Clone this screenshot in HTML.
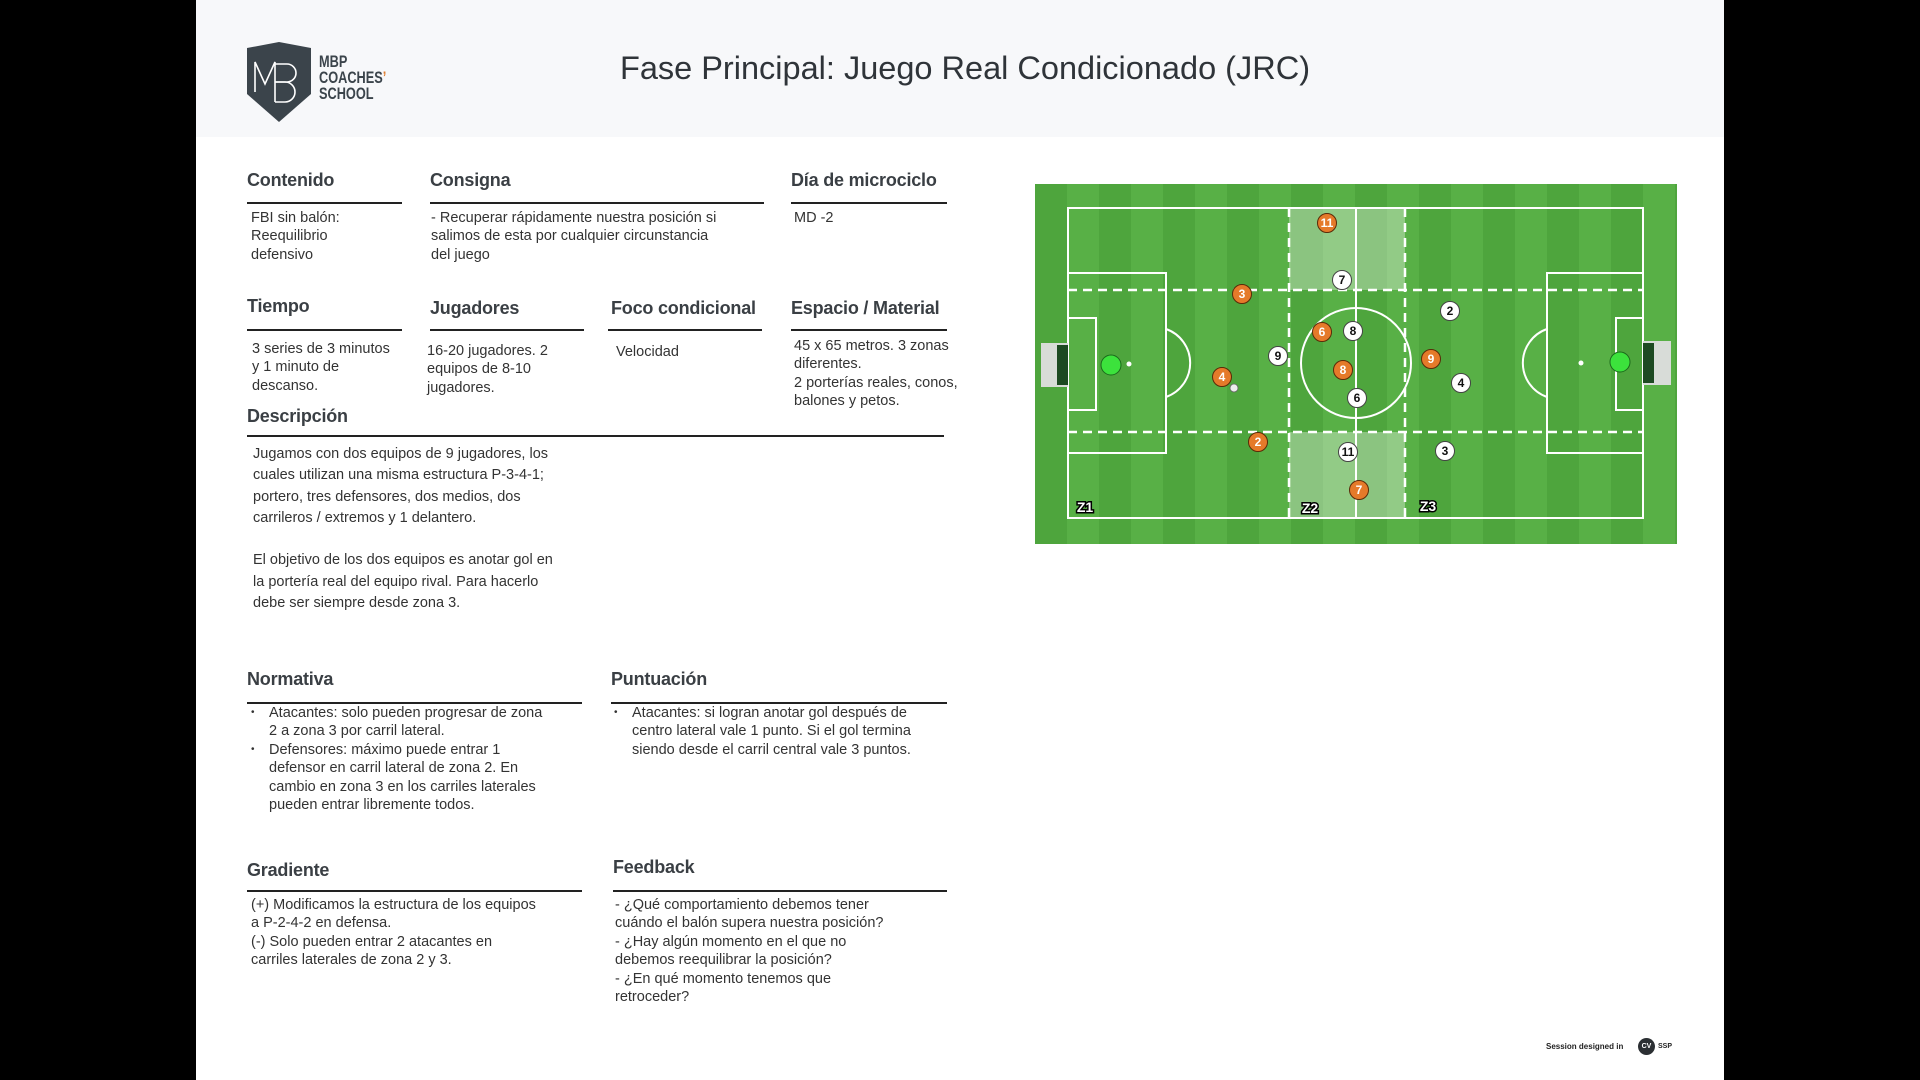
<!DOCTYPE html>
<html><head><meta charset="utf-8"><style>
*{margin:0;padding:0;box-sizing:border-box}
body{width:1920px;height:1080px;background:#000;position:relative;overflow:hidden;font-family:"Liberation Sans",sans-serif;color:#333}
#page{position:absolute;left:196px;top:0;width:1528px;height:1080px;background:#fff}
#hdr{position:absolute;left:196px;top:0;width:1528px;height:137px;background:#f7f8fa}
.a{position:absolute}
h2{position:absolute;font-size:18px;font-weight:bold;color:#3a3f44;letter-spacing:-0.2px}
.ln{position:absolute;height:2px;background:#222}
.t{position:absolute;font-size:14.5px;line-height:18.4px;color:#333}
ul{list-style:none}
ul li{position:relative;padding-left:20px}
ul li:before{content:"•";position:absolute;left:2px;font-size:10px}
</style></head><body>
<div id="page"></div><div id="hdr"></div>

<svg class="a" style="left:245px;top:42px" width="70" height="82" viewBox="0 0 70 82">
<path d="M2 6 L34 0 L66 6 L66 52 L34 80 L2 52 Z" fill="#3b444b"/>
<g fill="none" stroke="#fff" stroke-width="1.6">
<path d="M10 50 V20 L20 42 L30 20 V60"/><path d="M30 22 H42 a9 9 0 0 1 0 18 H30"/><path d="M30 40 H40 a10 10 0 0 1 0 20 H30"/>
</g></svg>
<div class="a" style="left:319px;top:54px;font-weight:bold;font-size:17px;line-height:16px;color:#3b444b;transform:scaleX(0.75);transform-origin:left top">MBP<br>COACHES<span style="color:#e07b2a">’</span><br>SCHOOL</div>

<div class="a" style="left:196px;width:1528px;top:50px;text-align:center;font-size:32.5px;color:#2f3439;padding-left:10px">Fase Principal: Juego Real Condicionado (JRC)</div>

<h2 style="left:247px;top:170px">Contenido</h2><div class="ln" style="left:247px;top:202px;width:155px"></div>
<div class="t" style="left:251px;top:209px">FBI sin balón:<br>Reequilibrio<br>defensivo</div>
<h2 style="left:430px;top:170px">Consigna</h2><div class="ln" style="left:430px;top:202px;width:334px"></div>
<div class="t" style="left:431px;top:209px">- Recuperar rápidamente nuestra posición si<br>salimos de esta por cualquier circunstancia<br>del juego</div>
<h2 style="left:791px;top:170px">Día de microciclo</h2><div class="ln" style="left:791px;top:202px;width:156px"></div>
<div class="t" style="left:794px;top:209px">MD -2</div>

<h2 style="left:247px;top:296px">Tiempo</h2><div class="ln" style="left:247px;top:329px;width:155px"></div>
<div class="t" style="left:252px;top:340px">3 series de 3 minutos<br>y 1 minuto de<br>descanso.</div>
<h2 style="left:430px;top:298px">Jugadores</h2><div class="ln" style="left:430px;top:329px;width:154px"></div>
<div class="t" style="left:427px;top:342px">16-20 jugadores. 2<br>equipos de 8-10<br>jugadores.</div>
<h2 style="left:611px;top:298px">Foco condicional</h2><div class="ln" style="left:608px;top:329px;width:154px"></div>
<div class="t" style="left:616px;top:343px">Velocidad</div>
<h2 style="left:791px;top:298px">Espacio / Material</h2><div class="ln" style="left:791px;top:329px;width:156px"></div>
<div class="t" style="left:794px;top:337px">45 x 65 metros. 3 zonas<br>diferentes.<br>2 porterías reales, conos,<br>balones y petos.</div>

<h2 style="left:247px;top:406px">Descripción</h2><div class="ln" style="left:247px;top:435px;width:697px"></div>
<div class="t" style="left:253px;top:444px;line-height:21.3px">Jugamos con dos equipos de 9 jugadores, los<br>cuales utilizan una misma estructura P-3-4-1;<br>portero, tres defensores, dos medios, dos<br>carrileros / extremos y 1 delantero.<br><br>El objetivo de los dos equipos es anotar gol en<br>la portería real del equipo rival. Para hacerlo<br>debe ser siempre desde zona 3.</div>

<h2 style="left:247px;top:669px">Normativa</h2><div class="ln" style="left:247px;top:702px;width:335px"></div>
<ul class="t" style="left:249px;top:704px;width:340px"><li>Atacantes: solo pueden progresar de zona<br>2 a zona 3 por carril lateral.</li><li>Defensores: máximo puede entrar 1<br>defensor en carril lateral de zona 2. En<br>cambio en zona 3 en los carriles laterales<br>pueden entrar libremente todos.</li></ul>
<h2 style="left:611px;top:669px">Puntuación</h2><div class="ln" style="left:611px;top:702px;width:336px"></div>
<ul class="t" style="left:612px;top:704px;width:345px"><li>Atacantes: si logran anotar gol después de<br>centro lateral vale 1 punto. Si el gol termina<br>siendo desde el carril central vale 3 puntos.</li></ul>

<h2 style="left:247px;top:860px">Gradiente</h2><div class="ln" style="left:247px;top:890px;width:335px"></div>
<div class="t" style="left:251px;top:896px">(+) Modificamos la estructura de los equipos<br>a P-2-4-2 en defensa.<br>(-) Solo pueden entrar 2 atacantes en<br>carriles laterales de zona 2 y 3.</div>
<h2 style="left:613px;top:857px">Feedback</h2><div class="ln" style="left:613px;top:890px;width:334px"></div>
<div class="t" style="left:615px;top:896px">- ¿Qué comportamiento debemos tener<br>cuándo el balón supera nuestra posición?<br>- ¿Hay algún momento en el que no<br>debemos reequilibrar la posición?<br>- ¿En qué momento tenemos que<br>retroceder?</div>

<div class="a" style="left:1546px;top:1042px;font-size:8px;color:#222;font-weight:bold">Session designed in</div>
<div class="a" style="left:1638px;top:1038px;width:17px;height:17px;border-radius:50%;background:#2b2f33;color:#fff;font-size:7px;line-height:17px;text-align:center;font-weight:bold">CV</div>
<div class="a" style="left:1658px;top:1043px;font-size:7px;font-weight:bold;color:#222">SSP</div>

<svg class="a" style="left:1035px;top:184px" width="642" height="360" viewBox="0 0 642 360" font-family="Liberation Sans, sans-serif">
<defs><pattern id="st" width="64" height="360" patternUnits="userSpaceOnUse"><rect width="32" height="360" fill="#4ea53d"/><rect x="32" width="32" height="360" fill="#58b046"/></pattern></defs>
<rect width="642" height="360" fill="url(#st)"/>
<rect x="254" y="24" width="116" height="82" fill="#fff" opacity="0.35"/>
<rect x="254" y="248" width="116" height="86" fill="#fff" opacity="0.35"/>
<g fill="none" stroke="#fff" stroke-width="2">
<rect x="33" y="24" width="575" height="310"/>
<line x1="321" y1="24" x2="321" y2="334"/>
<circle cx="321" cy="179" r="55"/>
<rect x="33" y="89" width="98" height="180"/><rect x="33" y="134" width="28" height="92"/>
<path d="M131 145 A36 36 0 0 1 131 213"/>
<rect x="512" y="89" width="96" height="180"/><rect x="581" y="134" width="27" height="92"/>
<path d="M512 145 A36 36 0 0 0 512 213"/>
<g stroke-dasharray="9 6" stroke-width="2.5"><line x1="33" y1="106" x2="608" y2="106"/><line x1="33" y1="248" x2="608" y2="248"/><line x1="254" y1="24" x2="254" y2="334"/><line x1="370" y1="24" x2="370" y2="334"/></g>
</g>
<rect x="6" y="159" width="27" height="44" fill="#d8dcd8"/><rect x="22" y="161" width="11" height="40" fill="#1d4a22"/>
<rect x="608" y="157" width="28" height="44" fill="#d8dcd8"/><rect x="608" y="159" width="11" height="40" fill="#1d4a22"/>
<circle cx="94" cy="180" r="2.5" fill="#fff"/><circle cx="546" cy="179" r="2.5" fill="#fff"/>
<circle cx="76" cy="181" r="10" fill="#3ce23c" stroke="#1b6b1b"/><circle cx="585" cy="178" r="10" fill="#3ce23c" stroke="#1b6b1b"/>
<circle cx="199" cy="204" r="4" fill="#eee" stroke="#666" stroke-width="0.8"/>
<g font-size="12" font-weight="bold" text-anchor="middle">
<g fill="#e57a2a" stroke="#5a2a08" stroke-width="1">
<circle cx="292" cy="39" r="9.5"/><circle cx="207" cy="110" r="9.5"/><circle cx="287" cy="148" r="9.5"/><circle cx="308" cy="186" r="9.5"/><circle cx="396" cy="175" r="9.5"/><circle cx="187" cy="193" r="9.5"/><circle cx="223" cy="258" r="9.5"/><circle cx="324" cy="306" r="9.5"/></g>
<g fill="#fff" stroke="#444" stroke-width="1">
<circle cx="307" cy="96" r="9.5"/><circle cx="415" cy="127" r="9.5"/><circle cx="318" cy="147" r="9.5"/><circle cx="243" cy="172" r="9.5"/><circle cx="426" cy="199" r="9.5"/><circle cx="322" cy="214" r="9.5"/><circle cx="313" cy="268" r="9.5"/><circle cx="410" cy="267" r="9.5"/></g>
<g fill="#fff"><text x="292" y="43">11</text><text x="207" y="114">3</text><text x="287" y="152">6</text><text x="308" y="190">8</text><text x="396" y="179">9</text><text x="187" y="197">4</text><text x="223" y="262">2</text><text x="324" y="310">7</text></g>
<g fill="#111"><text x="307" y="100">7</text><text x="415" y="131">2</text><text x="318" y="151">8</text><text x="243" y="176">9</text><text x="426" y="203">4</text><text x="322" y="218">6</text><text x="313" y="272">11</text><text x="410" y="271">3</text></g>
<g fill="#fff" stroke="#000" stroke-width="3" paint-order="stroke" font-size="14"><text x="50" y="328">Z1</text><text x="275" y="329">Z2</text><text x="393" y="327">Z3</text></g>
</g>
</svg>
</body></html>
